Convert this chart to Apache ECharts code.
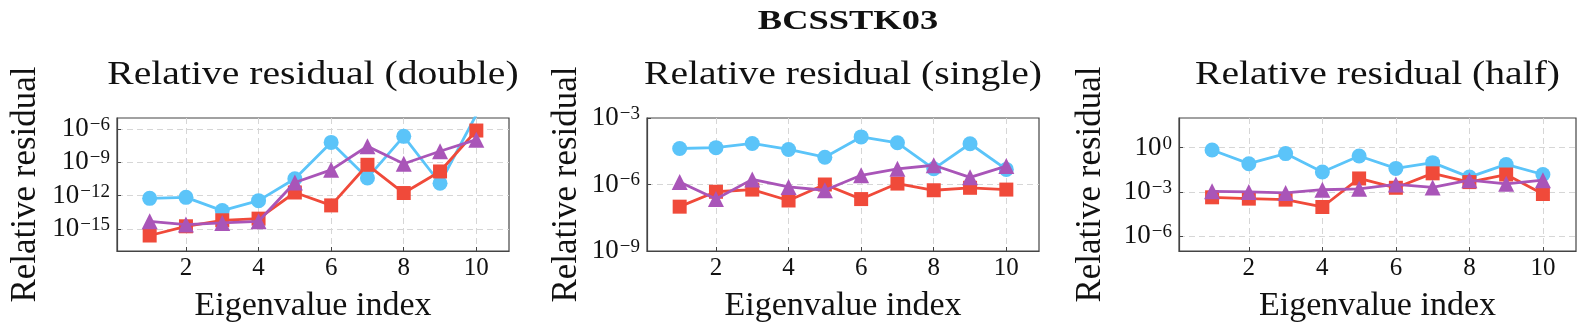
<!DOCTYPE html>
<html>
<head>
<meta charset="utf-8">
<title>BCSSTK03</title>
<script src="https://cdn.jsdelivr.net/npm/echarts@6/dist/echarts.min.js"></script>
<style>
  html, body { margin: 0; padding: 0; background: #fff; }
  #main { width: 1577px; height: 331px; }
</style>
</head>
<body>
<div id="main"></div>
<script>
// eigenvalue indices
var indices = [1, 2, 3, 4, 5, 6, 7, 8, 9, 10];

// relative residuals
// double precision
var doubleCircle   = [5.6e-13, 6.9e-13, 4.4e-14, 3.5e-13, 3.3e-11, 6.3e-8, 3.9e-11, 2.2e-7, 1.3e-11, 2.0e-5];
var doubleSquare   = [2.5e-16, 1.7e-15, 5.9e-15, 8.3e-15, 1.9e-12, 1.3e-13, 6.0e-10, 1.7e-12, 1.5e-10, 7.4e-7];
var doubleTriangle = [4.8e-15, 2.4e-15, 3.4e-15, 4.8e-15, 1.5e-11, 2.1e-10, 2.8e-8, 7.4e-10, 1.0e-8, 1.1e-7];
// single precision
var singleCircle   = [4.2e-5, 4.6e-5, 7.1e-5, 3.8e-5, 1.7e-5, 1.4e-4, 7.6e-5, 5.1e-6, 6.9e-5, 4.8e-6];
var singleSquare   = [1.0e-7, 4.7e-7, 5.9e-7, 1.9e-7, 1.0e-6, 2.2e-7, 1.1e-6, 5.5e-7, 7.1e-7, 5.9e-7];
var singleTriangle = [1.3e-6, 2.2e-7, 1.7e-6, 7.8e-7, 5.5e-7, 2.6e-6, 5.1e-6, 7.4e-6, 2.1e-6, 6.8e-6];
// half precision
var halfCircle     = [0.69, 0.081, 0.39, 0.022, 0.27, 0.039, 0.095, 0.010, 0.072, 0.015];
var halfSquare     = [4.3e-4, 3.5e-4, 3.0e-4, 9.5e-5, 8.1e-3, 1.9e-3, 0.018, 4.6e-3, 0.015, 7.2e-4];
var halfTriangle   = [1.1e-3, 1.0e-3, 8.5e-4, 1.4e-3, 1.6e-3, 3.2e-3, 2.0e-3, 6.2e-3, 3.5e-3, 6.2e-3];

// y ranges as powers of ten
var yRanges = [[-17, -5], [-9, -3], [-7, 2]];
var ySplits = [4, 2, 3];
var panelTitles = ['Relative residual (double)', 'Relative residual (single)', 'Relative residual (half)'];
var xName = 'Eigenvalue index';
var yName = 'Relative residual';

var FONT = '"Liberation Serif", "Times New Roman", serif';
var colors = ['#5bc4f9', '#f04a3a', '#a955b8'];
var symbols = ['circle', 'rect', 'triangle'];
var symbolSizes = [15, 14, 16];

var grids = [
  { left: 117, top: 118, width: 392, height: 133 },
  { left: 647, top: 118, width: 392, height: 133 },
  { left: 1179, top: 118, width: 397, height: 133 }
];
var yNameGaps = [74, 63, 71];

var panelData = [
  [doubleCircle, doubleSquare, doubleTriangle],
  [singleCircle, singleSquare, singleTriangle],
  [halfCircle, halfSquare, halfTriangle]
];

function powLabel(v) {
  if (Math.abs(v % 3) > 1e-9) return '';
  var e = v < 0 ? '\u2212' + Math.abs(v) : String(v);
  return '{b|10}{e|' + e + '}';
}

var option = {
  animation: false,
  backgroundColor: '#fff',
  grid: [],
  xAxis: [],
  yAxis: [],
  series: [],
  graphic: [
    {
      type: 'text', x: 848, y: 22, scaleX: 1.35,
      style: { text: 'BCSSTK03', font: 'bold 27px ' + FONT, fill: '#111', align: 'center', verticalAlign: 'middle' }
    }
  ]
};

for (var p = 0; p < 3; p++) {
  var g = grids[p];
  option.grid.push({
    left: g.left, top: g.top, width: g.width, height: g.height,
    show: true, borderColor: '#444', borderWidth: 1.2, containLabel: false
  });
  option.graphic.push({
    type: 'text', x: g.left + g.width / 2, y: 75, scaleX: 1.2,
    style: { text: panelTitles[p], font: '33px ' + FONT, fill: '#111', align: 'center', verticalAlign: 'middle' }
  });
  option.xAxis.push({
    type: 'value', gridIndex: p, min: 0.1, max: 10.9, splitNumber: 5,
    name: xName, nameLocation: 'middle', nameGap: 38,
    nameTextStyle: { fontFamily: FONT, fontSize: 34, color: '#111' },
    axisLine: { show: true, onZero: false, lineStyle: { color: '#444', width: 1.2 } },
    axisTick: { show: true, inside: true, length: 4, lineStyle: { color: '#444' } },
    axisLabel: {
      fontFamily: FONT, fontSize: 25, color: '#111', margin: 5,
      showMinLabel: false, showMaxLabel: false,
      formatter: function (v) { return Number.isInteger(v) ? String(v) : ''; }
    },
    splitLine: { show: true, showMinLine: false, showMaxLine: false, lineStyle: { color: '#d6d6d6', type: [6, 4], width: 1 } }
  });
  option.yAxis.push({
    type: 'value', gridIndex: p, min: yRanges[p][0], max: yRanges[p][1], splitNumber: ySplits[p],
    name: yName, nameLocation: 'middle', nameGap: yNameGaps[p],
    nameTextStyle: { fontFamily: FONT, fontSize: 35, color: '#111' },
    axisLine: { show: true, onZero: false, lineStyle: { color: '#444', width: 1.2 } },
    axisTick: { show: true, inside: true, length: 4, lineStyle: { color: '#444' } },
    axisLabel: {
      margin: 7, color: '#111',
      showMinLabel: p !== 0,
      showMaxLabel: p === 1,
      formatter: powLabel,
      rich: {
        b: { fontFamily: FONT, fontSize: 27, lineHeight: 27, verticalAlign: 'bottom', color: '#111' },
        e: { fontFamily: FONT, fontSize: 19, lineHeight: 19, padding: [0, 0, 13, 1], verticalAlign: 'top', color: '#111' }
      }
    },
    splitLine: { show: true, showMinLine: false, showMaxLine: false, lineStyle: { color: '#d6d6d6', type: [6, 4], width: 1 } }
  });
  for (var s = 0; s < 3; s++) {
    var vals = panelData[p][s];
    option.series.push({
      type: 'line', xAxisIndex: p, yAxisIndex: p,
      data: indices.map(function (x, i) { return [x, Math.log10(vals[i])]; }),
      symbol: symbols[s], symbolSize: symbolSizes[s],
      itemStyle: { color: colors[s] },
      lineStyle: { color: colors[s], width: 2.8 },
      clip: true, z: 2 + s
    });
  }
}

var chart = echarts.init(document.getElementById('main'));
chart.setOption(option);
</script>
</body>
</html>
